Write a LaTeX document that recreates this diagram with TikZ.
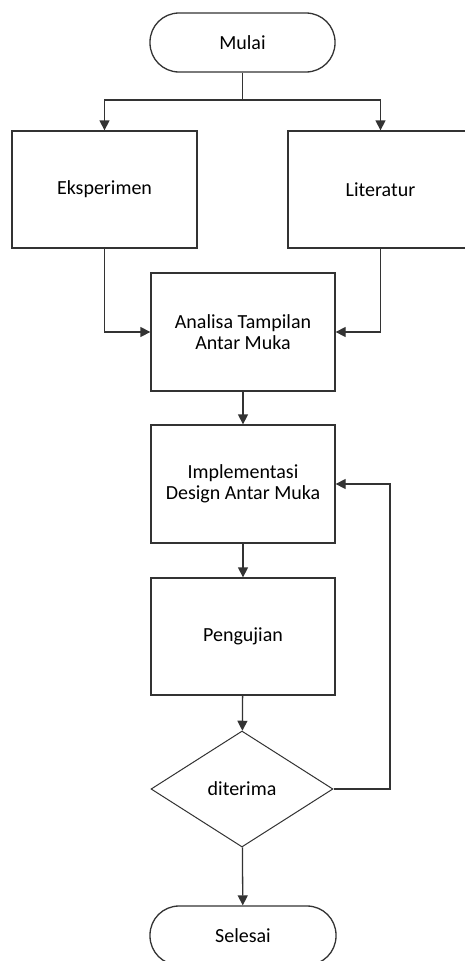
\documentclass[tikz,border=0pt]{standalone}
\usepackage{fontspec}
\setmainfont{Carlito}
\usetikzlibrary{arrows.meta,shapes.geometric}
\begin{document}
\begin{tikzpicture}[x=1pt,y=-1pt]
			% Styles des blocs du diagramme
			\tikzset{
				bloc/.style={draw=black!80, line width=1.3pt, fill=white, align=center, inner sep=2pt,
					font=\fontsize{20}{21}\selectfont},
				proses/.style={bloc, rectangle, minimum width=184pt, minimum height=118pt},
				terminal/.style={bloc, rectangle, rounded corners=29pt, minimum width=185pt, minimum height=59pt},
				keputusan/.style={bloc, diamond, line width=1pt, minimum width=182pt, minimum height=116pt, inner sep=0pt},
				panah/.style={draw=black!80, line width=1.3pt, -{Triangle[width=10pt,length=10pt]}}
			}
			\useasboundingbox (0,0) rectangle (464,961);
			\node[terminal] (mulai) at (242.5,42.5) {Mulai};
			\node[proses, minimum width=185pt, minimum height=117pt] (eksperimen) at (104.5,189.5) {Eksperimen};
			\node[proses, minimum width=185pt, minimum height=117pt] (literatur) at (380.5,189.5) {Literatur};
			\node[proses] (analisa) at (243,332) {Analisa Tampilan\\Antar Muka};
			\node[proses] (implementasi) at (243,484) {Implementasi\\Design Antar Muka};
			\node[proses, minimum height=117pt] (pengujian) at (243,636.5) {Pengujian};
			\node[keputusan] (diterima) at (242,789) {diterima};
			\node[terminal, minimum width=186pt] (selesai) at (243,935.5) {Selesai};
			% Percabangan dari Mulai
			\coordinate (cabang) at (242.5,100);
			\draw[draw=black!80, line width=1.3pt] (mulai.south) -- (cabang);
			\draw[panah] (cabang) -| (eksperimen.north);
			\draw[panah] (cabang) -| (literatur.north);
			\draw[panah] (eksperimen.south) |- (analisa.west);
			\draw[panah] (literatur.south) |- (analisa.east);
			\draw[panah] (analisa) -- (implementasi);
			\draw[panah] (implementasi) -- (pengujian);
			\draw[panah] (pengujian) -- (diterima);
			\draw[panah] (diterima) -- (selesai);
			% Umpan balik jika tidak diterima
			\coordinate (balik) at (390,789);
			\draw[panah] (diterima.east) -- (balik) |- (implementasi.east);
		\end{tikzpicture}
\end{document}
